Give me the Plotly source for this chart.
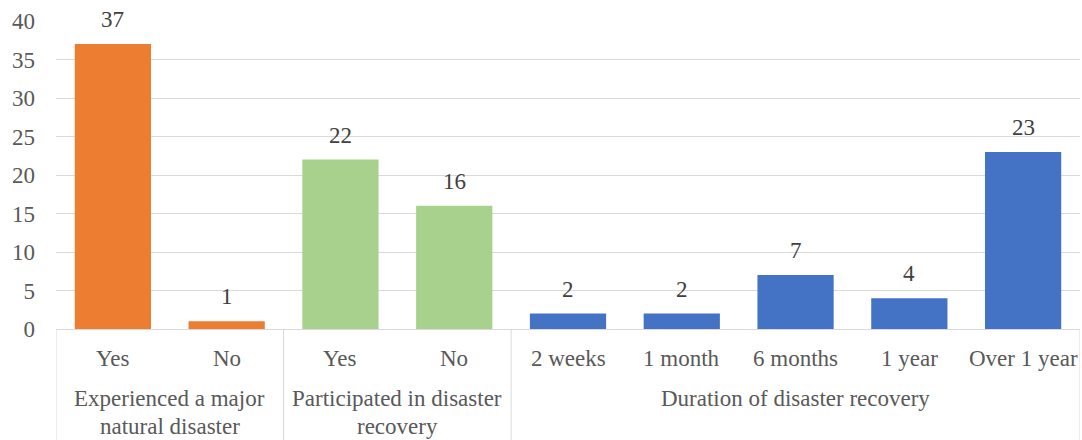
import plotly.graph_objects as go

groups = [["Experienced a major", "natural disaster"],
          ["Participated in disaster", "recovery"],
          ["Duration of disaster recovery"]]
group_sizes = [2, 2, 5]
categories = ["Yes", "No", "Yes", "No", "2 weeks", "1 month", "6 months", "1 year", "Over 1 year"]
values = [37, 1, 22, 16, 2, 2, 7, 4, 23]
group_colors = ["#ED7D31", "#A9D18E", "#4472C4"]
y_ticks = [0, 5, 10, 15, 20, 25, 30, 35, 40]

FONT = "Liberation Serif"
TXT = "#595959"
LINE = "#D9D9D9"
FS = 23

colors = []
for c, n in zip(group_colors, group_sizes):
    colors += [c] * n
xs = list(range(len(categories)))

fig = go.Figure(go.Bar(x=xs, y=values, marker=dict(color=colors, line=dict(width=0)),
                       width=0.67, hoverinfo="skip"))

ann = []
for x, v in zip(xs, values):
    ann.append(dict(x=x, y=v, xref="x", yref="y", text=str(v), showarrow=False,
                    yanchor="bottom", yshift=10, font=dict(family=FONT, size=FS, color="#404040")))
for x, c in zip(xs, categories):
    ann.append(dict(x=x, y=0, xref="x", yref="paper", text=c, showarrow=False,
                    yanchor="middle", yshift=-29, font=dict(family=FONT, size=FS, color=TXT)))

shapes = []
start = -0.5
bounds = [start]
for g, n in zip(groups, group_sizes):
    center = start + n / 2
    for i, line in enumerate(g):
        ann.append(dict(x=center, y=0, xref="x", yref="paper", text=line, showarrow=False,
                        yanchor="top", yshift=-55 - 28 * i,
                        font=dict(family=FONT, size=FS, color=TXT)))
    start += n
    bounds.append(start)
for b in bounds:
    shapes.append(dict(type="line", xref="x", yref="paper", x0=b, x1=b, y0=0, y1=-0.4,
                       line=dict(color=LINE, width=1)))

fig.update_layout(
    width=1082, height=440,
    margin=dict(l=56, r=2, t=21, b=111),
    paper_bgcolor="white", plot_bgcolor="white",
    showlegend=False,
    annotations=ann, shapes=shapes,
    xaxis=dict(range=[-0.5, len(categories) - 0.5], showticklabels=False, showgrid=False,
               zeroline=False, showline=True, linecolor=LINE, linewidth=1, fixedrange=True),
    yaxis=dict(range=[0, 40], tickvals=y_ticks, showgrid=True, gridcolor=LINE, gridwidth=1,
               zeroline=False, showline=False, ticks="", ticklabelstandoff=20,
               tickfont=dict(family=FONT, size=FS, color=TXT), fixedrange=True),
)
fig.write_html("out.html")
